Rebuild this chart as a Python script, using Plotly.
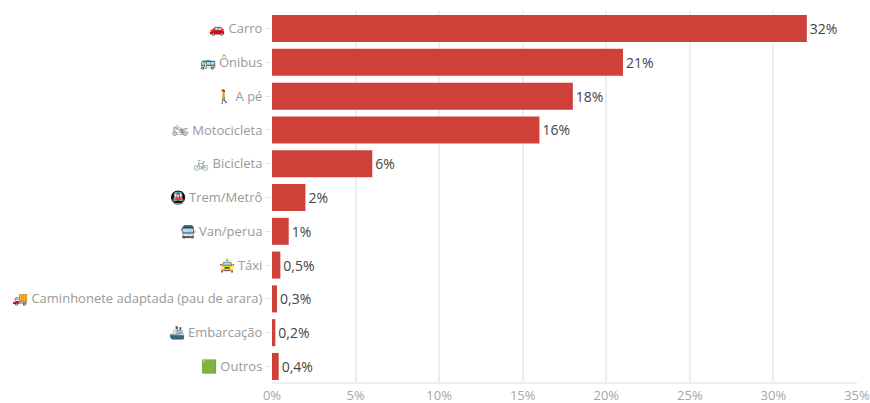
import plotly.graph_objects as go

modes = ["🚗 Carro", "🚌 Ônibus", "🚶 A pé", "🏍 Motocicleta", "🚲 Bicicleta", "🚇 Trem/Metrô",
         "🚍 Van/perua", "🚖 Táxi", "🚚 Caminhonete adaptada (pau de arara)", "🚢 Embarcação", "🟩 Outros"]
shares = [32, 21, 18, 16, 6, 2, 1, 0.5, 0.3, 0.2, 0.4]
share_labels = ["32%", "21%", "18%", "16%", "6%", "2%", "1%", "0,5%", "0,3%", "0,2%", "0,4%"]
x_ticks = [0, 5, 10, 15, 20, 25, 30, 35]
x_tick_labels = ["0%", "5%", "10%", "15%", "20%", "25%", "30%", "35%"]

fig = go.Figure(go.Bar(
    y=modes, x=shares, orientation="h",
    marker=dict(color="#cf4138", line_width=0),
    width=0.8,
    text=share_labels, textposition="outside", cliponaxis=False,
    textfont=dict(family="Open Sans", size=14, color="#444444", weight=500),
    hoverinfo="y+text",
))
fig.update_layout(
    width=870, height=403, margin=dict(l=272, r=13, t=11, b=21),
    paper_bgcolor="white", plot_bgcolor="white", showlegend=False,
    font=dict(family="Open Sans", size=13, color="#999999"),
)
fig.update_xaxes(range=[0, 35], tickvals=x_ticks, ticktext=x_tick_labels, automargin=False,
                 ticklabeloverflow="allow",
                 showgrid=True, gridcolor="#eeeeee", gridwidth=2, zeroline=False,
                 showline=True, linecolor="#eeeeee", linewidth=2, ticks="",
                 tickfont=dict(size=13, color="#a6a6a6"))
# A reversed category axis whose range is nudged so the rows sit evenly over the baseline
fig.update_yaxes(range=[10.46, -0.52], ticks="outside", ticklen=6, tickcolor="#e6e6e6",
                 tickwidth=1, showgrid=False, zeroline=False, showline=False, automargin=False,
                 tickfont=dict(size=13, color="#999999"))
fig.write_html("out.html")
